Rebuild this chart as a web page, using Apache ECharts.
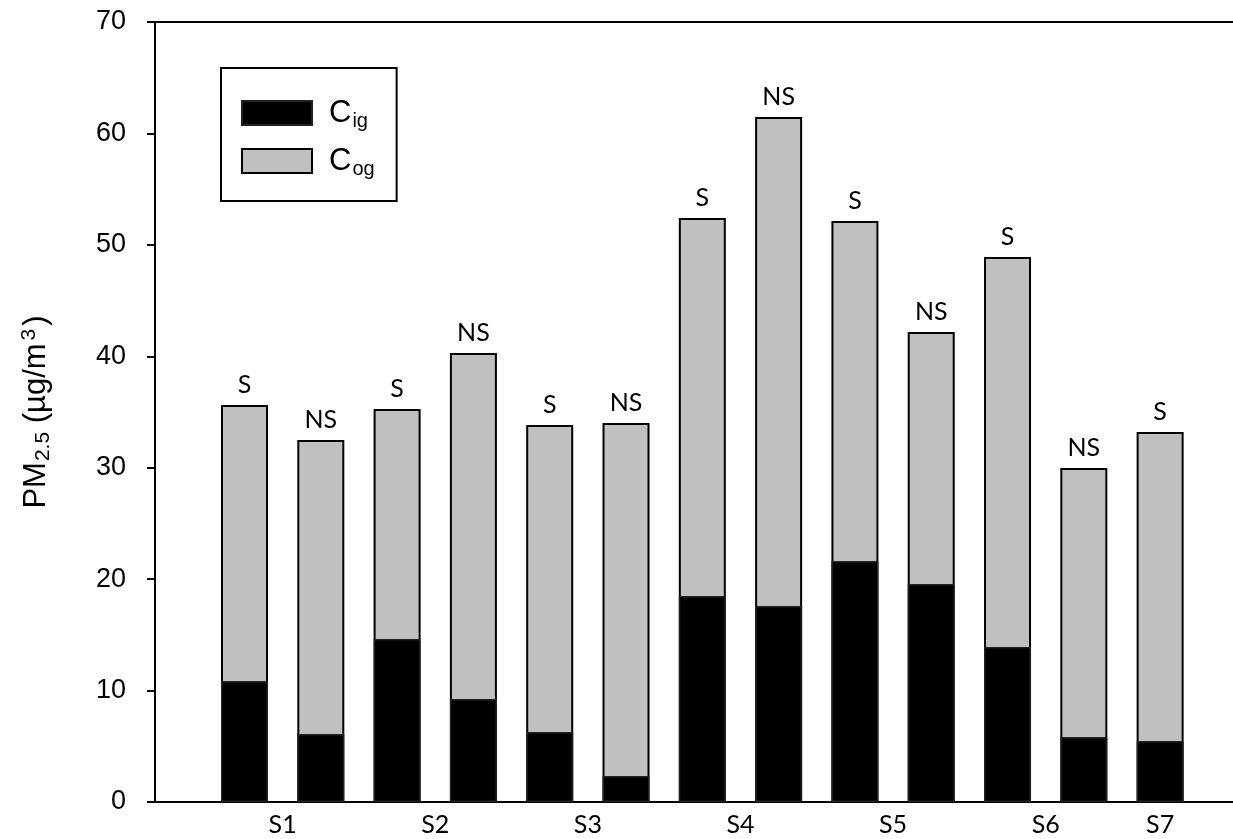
<!DOCTYPE html>
<html>
<head>
<meta charset="utf-8">
<script src="https://cdn.jsdelivr.net/npm/echarts@6/dist/echarts.min.js"></script>
<style>html,body{margin:0;padding:0;background:#fff;}#c{width:1233px;height:839px;}</style>
</head>
<body>
<div id="c"></div>
<script>
// ---- data ----
const sites  = ['S1','S1','S2','S2','S3','S3','S4','S4','S5','S5','S6','S6','S7'];
const status = ['S','NS','S','NS','S','NS','S','NS','S','NS','S','NS','S'];
const cig    = [10.86, 6.10, 14.63, 9.24, 6.28, 2.33, 18.49, 17.59, 21.63, 19.56, 13.91, 5.83, 5.47];
const cog    = [24.77, 26.39, 20.64, 31.05, 27.55, 31.68, 33.92, 43.88, 30.51, 22.62, 35.00, 24.14, 27.73];
const yTicks = [0, 10, 20, 30, 40, 50, 60, 70];
const seriesNames = ['Cig', 'Cog'];

// bar positions along the x axis (1..n) and site label positions (group centres)
const pos = sites.map((_, i) => i + 1);
const siteNames = [...new Set(sites)];
const sitePos = siteNames.map(s => {
  const p = pos.filter((_, i) => sites[i] === s);
  return p.reduce((a, b) => a + b, 0) / p.length;
});
// stacked top of each bar (Cig + Cog)
const total = cig.map((v, i) => +(v + cog[i]).toFixed(2));

const chart = echarts.init(document.getElementById('c'), null, {renderer: 'canvas'});
const FONT_ARIAL = '"Liberation Sans", Arial, sans-serif';
const FONT_CAL = 'Lato, "Open Sans", sans-serif';

const xMin = -0.173, xMax = 13.955;

chart.setOption({
  backgroundColor: '#ffffff',
  animation: false,
  grid: {left: 155, right: 0, top: 22, bottom: 37, containLabel: false},
  legend: {
    data: seriesNames,
    orient: 'vertical',
    left: 221, top: 68,
    padding: [27, 22, 22, 20],
    itemWidth: 70, itemHeight: 24, itemGap: 12, itemTextGap: 30,
    icon: 'rect',
    borderColor: '#000', borderWidth: 2,
    backgroundColor: '#fff',
    formatter: n => n === 'Cig' ? '{c|C}{sub|ig}' : '{c|C}{sub|og}',
    textStyle: {
      color: '#000', fontFamily: FONT_ARIAL, fontSize: 31, lineHeight: 26,
      rich: {
        c: {fontFamily: FONT_ARIAL, fontSize: 31, color: '#000', padding: [0, 0, 0, 12], lineHeight: 26},
        sub: {fontFamily: FONT_ARIAL, fontSize: 20, color: '#000', padding: [16, 0, 0, 1], lineHeight: 26}
      }
    }
  },
  xAxis: [{
    type: 'value', min: xMin, max: xMax, position: 'bottom',
    splitLine: {show: false},
    axisLine: {show: true, onZero: false, lineStyle: {color: '#000', width: 2}},
    axisTick: {show: false},
    axisLabel: {
      customValues: sitePos,
      margin: 10,
      fontFamily: FONT_CAL, fontSize: 25, color: '#000',
      formatter: v => {
        const i = sitePos.findIndex(p => Math.abs(p - v) < 1e-6);
        return i >= 0 ? siteNames[i] : '';
      }
    }
  }, {
    type: 'value', min: xMin, max: xMax, position: 'top',
    splitLine: {show: false},
    axisLine: {show: true, onZero: false, lineStyle: {color: '#000', width: 2}},
    axisTick: {show: false}, axisLabel: {show: false}
  }],
  yAxis: {
    type: 'value', min: 0, max: 70, interval: 10,
    splitLine: {show: false},
    axisLine: {show: true, onZero: false, lineStyle: {color: '#000', width: 2}},
    axisTick: {show: true, inside: false, length: 8, lineStyle: {color: '#000', width: 2}},
    axisLabel: {
      margin: 29, fontFamily: FONT_ARIAL, fontSize: 27, color: '#000',
      formatter: v => yTicks.includes(v) ? String(v) : ''
    },
    name: 'PM{sub|2.5} (µg/m{sup|3})',
    nameLocation: 'middle', nameRotate: 90, nameGap: 101,
    nameTextStyle: {
      fontFamily: FONT_ARIAL, fontSize: 31, color: '#000',
      rich: {
        sub: {fontFamily: FONT_ARIAL, fontSize: 21, color: '#000', padding: [14, 0, 0, 1]},
        sup: {fontFamily: FONT_ARIAL, fontSize: 21, color: '#000', padding: [0, 3, 14, 3]}
      }
    }
  },
  series: [{
    name: 'Cog', type: 'bar', barWidth: 47, barGap: '-100%', z: 2,
    data: total.map((v, i) => [pos[i], v]),
    itemStyle: {color: '#c0c0c0', borderColor: '#000', borderWidth: 2},
    label: {
      show: true, position: 'top', distance: 8,
      fontFamily: FONT_CAL, fontSize: 25, color: '#000',
      formatter: p => status[p.dataIndex]
    }
  }, {
    name: 'Cig', type: 'bar', barWidth: 47, barGap: '-100%', z: 3,
    data: cig.map((v, i) => [pos[i], v]),
    itemStyle: {color: '#000000', borderColor: '#222', borderWidth: 1.5}
  }]
});
</script>
</body>
</html>
